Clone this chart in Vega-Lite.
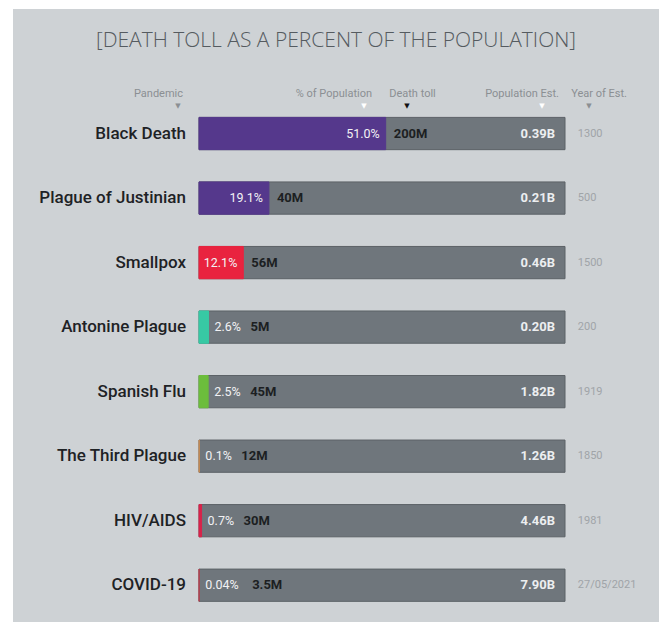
{
  "$schema": "https://vega.github.io/schema/vega-lite/v6.json",
  "width": 646,
  "height": 613,
  "autosize": {"type": "none"},
  "padding": {"left": 13, "top": 9, "right": 0, "bottom": 0},
  "background": "#ffffff",
  "config": {"view": {"fill": "#ced2d5", "stroke": null}, "font": "Roboto"},
  "title": {
    "text": "[DEATH TOLL AS A PERCENT OF THE POPULATION]",
    "anchor": "middle",
    "frame": "group",
    "baseline": "top",
    "offset": -42,
    "font": "Open Sans",
    "fontWeight": 300,
    "fontSize": 21,
    "color": "#555b60"
  },
  "data": {
    "values": [
      {"Pandemic": "Black Death", "pct": 51.0, "pctLabel": "51.0%", "deaths": "200M", "pop": "0.39B", "year": "1300"},
      {"Pandemic": "Plague of Justinian", "pct": 19.1, "pctLabel": "19.1%", "deaths": "40M", "pop": "0.21B", "year": "500"},
      {"Pandemic": "Smallpox", "pct": 12.1, "pctLabel": "12.1%", "deaths": "56M", "pop": "0.46B", "year": "1500"},
      {"Pandemic": "Antonine Plague", "pct": 2.6, "pctLabel": "2.6%", "deaths": "5M", "pop": "0.20B", "year": "200"},
      {"Pandemic": "Spanish Flu", "pct": 2.5, "pctLabel": "2.5%", "deaths": "45M", "pop": "1.82B", "year": "1919"},
      {"Pandemic": "The Third Plague", "pct": 0.1, "pctLabel": "0.1%", "deaths": "12M", "pop": "1.26B", "year": "1850"},
      {"Pandemic": "HIV/AIDS", "pct": 0.7, "pctLabel": "0.7%", "deaths": "30M", "pop": "4.46B", "year": "1981"},
      {"Pandemic": "COVID-19", "pct": 0.04, "pctLabel": "0.04%", "deaths": "3.5M", "pop": "7.90B", "year": "27/05/2021"}
    ]
  },
  "layer": [
    {
      "mark": {"type": "bar", "color": "#6f767c", "stroke": "#5c6267", "strokeWidth": 1},
      "encoding": {
        "y": {
          "field": "Pandemic", "type": "nominal", "sort": null, "axis": null,
          "scale": {"paddingInner": 0.5, "paddingOuter": 1.02, "align": 0.84, "round": false}
        },
        "x": {"datum": 100, "type": "quantitative", "axis": null, "scale": {"domain": [-50.82, 125.68], "nice": false, "zero": false}}
      }
    },
    {
      "mark": {"type": "bar", "strokeWidth": 1},
      "encoding": {
        "y": {"field": "Pandemic", "type": "nominal", "sort": null, "axis": null},
        "x": {"field": "pct", "type": "quantitative", "stack": null},
        "color": {
          "field": "Pandemic", "type": "nominal", "legend": null,
          "scale": {
            "domain": ["Black Death", "Plague of Justinian", "Smallpox", "Antonine Plague", "Spanish Flu", "The Third Plague", "HIV/AIDS", "COVID-19"],
            "range": ["#55388c", "#55388c", "#e9233f", "#37c9a4", "#6cbd3c", "#c58b55", "#d8234a", "#b5414f"]
          }
        },
        "stroke": {
          "field": "Pandemic", "type": "nominal", "legend": null,
          "scale": {
            "domain": ["Black Death", "Plague of Justinian", "Smallpox", "Antonine Plague", "Spanish Flu", "The Third Plague", "HIV/AIDS", "COVID-19"],
            "range": ["#55388c", "#55388c", "#e9233f", "#37c9a4", "#6cbd3c", "#c58b55", "#d8234a", "#b5414f"]
          }
        }
      }
    },
    {
      "mark": {"type": "text", "align": "right", "baseline": "middle", "fontSize": 17, "fontWeight": 500, "color": "#1e2225"},
      "encoding": {
        "y": {"field": "Pandemic", "type": "nominal", "sort": null, "axis": null},
        "x": {"datum": -3.55, "type": "quantitative"},
        "text": {"field": "Pandemic"}
      }
    },
    {
      "transform": [{"filter": "datum.pct >= 10"}],
      "mark": {"type": "text", "align": "right", "baseline": "middle", "dx": -6, "fontSize": 12.5, "color": "#f2f2f4"},
      "encoding": {
        "y": {"field": "Pandemic", "type": "nominal", "sort": null, "axis": null},
        "x": {"field": "pct", "type": "quantitative"},
        "text": {"field": "pctLabel"}
      }
    },
    {
      "transform": [{"filter": "datum.pct < 10"}],
      "mark": {"type": "text", "align": "left", "baseline": "middle", "dx": 6, "fontSize": 12.5, "color": "#f2f2f4"},
      "encoding": {
        "y": {"field": "Pandemic", "type": "nominal", "sort": null, "axis": null},
        "x": {"field": "pct", "type": "quantitative"},
        "text": {"field": "pctLabel"}
      }
    },
    {
      "transform": [{"filter": "datum.pct >= 10"}],
      "mark": {"type": "text", "align": "left", "baseline": "middle", "dx": 8, "fontSize": 13, "fontWeight": "bold", "color": "#1c1f22"},
      "encoding": {
        "y": {"field": "Pandemic", "type": "nominal", "sort": null, "axis": null},
        "x": {"field": "pct", "type": "quantitative"},
        "text": {"field": "deaths"}
      }
    },
    {
      "transform": [{"filter": "datum.pct < 10 && length(datum.pctLabel) <= 4"}],
      "mark": {"type": "text", "align": "left", "baseline": "middle", "dx": 42, "fontSize": 13, "fontWeight": "bold", "color": "#1c1f22"},
      "encoding": {
        "y": {"field": "Pandemic", "type": "nominal", "sort": null, "axis": null},
        "x": {"field": "pct", "type": "quantitative"},
        "text": {"field": "deaths"}
      }
    },
    {
      "transform": [{"filter": "datum.pct < 10 && length(datum.pctLabel) > 4"}],
      "mark": {"type": "text", "align": "left", "baseline": "middle", "dx": 53, "fontSize": 13, "fontWeight": "bold", "color": "#1c1f22"},
      "encoding": {
        "y": {"field": "Pandemic", "type": "nominal", "sort": null, "axis": null},
        "x": {"field": "pct", "type": "quantitative"},
        "text": {"field": "deaths"}
      }
    },
    {
      "mark": {"type": "text", "align": "right", "baseline": "middle", "dx": -10, "fontSize": 13, "fontWeight": "bold", "color": "#eceef0"},
      "encoding": {
        "y": {"field": "Pandemic", "type": "nominal", "sort": null, "axis": null},
        "x": {"datum": 100, "type": "quantitative"},
        "text": {"field": "pop"}
      }
    },
    {
      "mark": {"type": "text", "align": "left", "baseline": "middle", "fontSize": 11, "color": "#a0a4a8"},
      "encoding": {
        "y": {"field": "Pandemic", "type": "nominal", "sort": null, "axis": null},
        "x": {"datum": 103.5, "type": "quantitative"},
        "text": {"field": "year"}
      }
    },
    {
      "data": {"values": [{"h": "Pandemic"}]},
      "mark": {"type": "text", "align": "right", "baseline": "middle", "dy": -40, "fontSize": 11, "color": "#8b8f93"},
      "encoding": {"x": {"datum": -4.37, "type": "quantitative"}, "y": {"datum": "Black Death", "type": "nominal"}, "text": {"field": "h"}}
    },
    {
      "data": {"values": [{"h": "% of Population"}]},
      "mark": {"type": "text", "align": "right", "baseline": "middle", "dy": -40, "fontSize": 11, "color": "#8b8f93"},
      "encoding": {"x": {"datum": 47.27, "type": "quantitative"}, "y": {"datum": "Black Death", "type": "nominal"}, "text": {"field": "h"}}
    },
    {
      "data": {"values": [{"h": "Death toll"}]},
      "mark": {"type": "text", "align": "center", "baseline": "middle", "dy": -40, "fontSize": 11, "color": "#8b8f93"},
      "encoding": {"x": {"datum": 58.33, "type": "quantitative"}, "y": {"datum": "Black Death", "type": "nominal"}, "text": {"field": "h"}}
    },
    {
      "data": {"values": [{"h": "Population Est."}]},
      "mark": {"type": "text", "align": "right", "baseline": "middle", "dy": -40, "fontSize": 11, "color": "#8b8f93"},
      "encoding": {"x": {"datum": 98.36, "type": "quantitative"}, "y": {"datum": "Black Death", "type": "nominal"}, "text": {"field": "h"}}
    },
    {
      "data": {"values": [{"h": "Year of Est."}]},
      "mark": {"type": "text", "align": "center", "baseline": "middle", "dy": -40, "fontSize": 11, "color": "#8b8f93"},
      "encoding": {"x": {"datum": 109.3, "type": "quantitative"}, "y": {"datum": "Black Death", "type": "nominal"}, "text": {"field": "h"}}
    },
    {
      "data": {"values": [{"t": "▼"}]},
      "mark": {"type": "text", "align": "center", "baseline": "middle", "dy": -28, "fontSize": 7, "font": "DejaVu Sans", "color": "#8b8f93"},
      "encoding": {"x": {"datum": -5.74, "type": "quantitative"}, "y": {"datum": "Black Death", "type": "nominal"}, "text": {"field": "t"}}
    },
    {
      "data": {"values": [{"t": "▼"}]},
      "mark": {"type": "text", "align": "center", "baseline": "middle", "dy": -28, "fontSize": 7, "font": "DejaVu Sans", "color": "#ffffff"},
      "encoding": {"x": {"datum": 45.08, "type": "quantitative"}, "y": {"datum": "Black Death", "type": "nominal"}, "text": {"field": "t"}}
    },
    {
      "data": {"values": [{"t": "▼"}]},
      "mark": {"type": "text", "align": "center", "baseline": "middle", "dy": -28, "fontSize": 7, "font": "DejaVu Sans", "color": "#111111"},
      "encoding": {"x": {"datum": 56.83, "type": "quantitative"}, "y": {"datum": "Black Death", "type": "nominal"}, "text": {"field": "t"}}
    },
    {
      "data": {"values": [{"t": "▼"}]},
      "mark": {"type": "text", "align": "center", "baseline": "middle", "dy": -28, "fontSize": 7, "font": "DejaVu Sans", "color": "#ffffff"},
      "encoding": {"x": {"datum": 93.72, "type": "quantitative"}, "y": {"datum": "Black Death", "type": "nominal"}, "text": {"field": "t"}}
    },
    {
      "data": {"values": [{"t": "▼"}]},
      "mark": {"type": "text", "align": "center", "baseline": "middle", "dy": -28, "fontSize": 7, "font": "DejaVu Sans", "color": "#8b8f93"},
      "encoding": {"x": {"datum": 106.56, "type": "quantitative"}, "y": {"datum": "Black Death", "type": "nominal"}, "text": {"field": "t"}}
    }
  ]
}
